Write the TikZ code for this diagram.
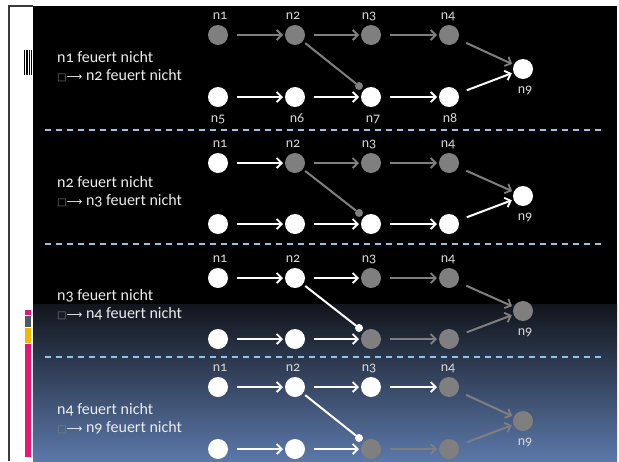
\documentclass[tikz,border=0pt]{standalone}
\usepackage{fontspec}
\setmainfont{Carlito}[Numbers=OldStyle]
\newfontfamily\symfont{DejaVu Sans}
\usetikzlibrary{arrows.meta}
\definecolor{gry}{HTML}{7F7F7F}
\definecolor{lblc}{HTML}{D8D8D8}
\definecolor{txtc}{HTML}{ECECEC}
\definecolor{dashc}{HTML}{93C3EA}
\definecolor{gradtop}{HTML}{12151C}
\definecolor{gradbot}{HTML}{5B78A9}
\definecolor{pinkc}{HTML}{E6177A}
\definecolor{slatec}{HTML}{4E5A6A}
\definecolor{yelc}{HTML}{F5B800}
\definecolor{framec}{HTML}{3A3A3A}
\newcommand{\impl}{{\symfont\fontsize{10}{12}\selectfont\color{gry}□}{\symfont\fontsize{11}{12}\selectfont ⟶}}
\begin{document}
\begin{tikzpicture}[x=1pt,y=-1pt,
 nd/.style={circle,minimum size=20pt,inner sep=0pt,outer sep=0pt},
 wn/.style={nd,fill=white},
 gn/.style={nd,fill=gry},
 arr/.style={line width=2pt,-{Straight Barb[length=5pt,width=10pt,line width=1.8pt]},shorten <=9pt,shorten >=2pt},
 wa/.style={arr,draw=white},
 ga/.style={arr,draw=gry},
 dotw/.style={circle,fill=white,minimum size=8pt,inner sep=0pt,outer sep=0pt},
 dotg/.style={circle,fill=gry,minimum size=8pt,inner sep=0pt,outer sep=0pt},
 wd/.style={draw=white,line width=2pt,shorten <=3pt},
 gd/.style={draw=gry,line width=2pt,shorten <=3pt},
 lbl/.style={text=lblc,font=\fontsize{14}{16}\selectfont,anchor=base,inner sep=0pt},
 txt/.style={text=txtc,font=\fontsize{16}{18}\selectfont,anchor=base west,inner sep=0pt},
 sepline/.style={draw=dashc,line width=1.5pt,dash pattern=on 6pt off 5pt}
]
\useasboundingbox (0,0) rectangle (619,461);
\fill[white] (0,0) rectangle (619,461);
\fill[black] (33,6) rectangle (617,461);
\shade[top color=gradtop,bottom color=gradbot] (33,304) rectangle (617,461);
\draw[framec,line width=1.5pt] (9,461) -- (9,6) -- (33,6);
% barcode mark
\fill[black] (23.5,50) rectangle (25,75);
\fill[black] (26,50) rectangle (27.5,75);
\fill[black] (28.5,50) rectangle (29.5,75);
\fill[black] (30.5,50) rectangle (32,75);
% colour bars
\fill[pinkc] (25,310) rectangle (31,315);
\fill[slatec] (25,316) rectangle (31,327);
\fill[yelc] (25,328) rectangle (31,343);
\fill[pinkc] (25,344) rectangle (31,457);
% separators
\coordinate (s1a) at (45,130); \coordinate (s1b) at (601,130);
\coordinate (s2a) at (45,244); \coordinate (s2b) at (601,244);
\coordinate (s3a) at (45,357); \coordinate (s3b) at (601,357);
\draw[sepline] (s1a) -- (s1b);
\draw[sepline] (s2a) -- (s2b);
\draw[sepline] (s3a) -- (s3b);

% ---------- Section 1 ----------
\node[gn] (a1) at (218,35) {};
\node[gn] (a2) at (295,35) {};
\node[gn] (a3) at (371,35) {};
\node[gn] (a4) at (449,35) {};
\node[wn] (a5) at (218,97) {};
\node[wn] (a6) at (295,97) {};
\node[wn] (a7) at (371,97) {};
\node[wn] (a8) at (449,97) {};
\node[wn] (a9) at (523,69) {};
\node[dotg] (a7d) at ([shift={(-12,-11)}]a7) {};
\draw[ga] (a1) -- (a2);
\draw[ga] (a2) -- (a3);
\draw[ga] (a3) -- (a4);
\draw[ga] (a4) -- (a9);
\draw[wa] (a5) -- (a6);
\draw[wa] (a6) -- (a7);
\draw[wa] (a7) -- (a8);
\draw[wa] (a8) -- (a9);
\draw[gd] (a2) -- (a7d);
\node[lbl] (a1l) at (220,19) {n1};
\node[lbl] (a2l) at (293,19) {n2};
\node[lbl] (a3l) at (369,19) {n3};
\node[lbl] (a4l) at (448,19) {n4};
\node[lbl] (a5l) at (218,122) {n5};
\node[lbl] (a6l) at (297,122) {n6};
\node[lbl] (a7l) at (373,122) {n7};
\node[lbl] (a8l) at (450,122) {n8};
\node[lbl] (a9l) at (525,93) {n9};
\node[txt] (at1) at (57,62) {n1 feuert nicht};
\node[txt] (at2) at (57,80) {\impl{} n2 feuert nicht};

% ---------- Section 2 ----------
\node[wn] (b1) at (218,163) {};
\node[gn] (b2) at (295,163) {};
\node[gn] (b3) at (371,163) {};
\node[gn] (b4) at (449,163) {};
\node[wn] (b5) at (218,224) {};
\node[wn] (b6) at (295,224) {};
\node[wn] (b7) at (371,224) {};
\node[wn] (b8) at (449,224) {};
\node[wn] (b9) at (523,196) {};
\node[dotg] (b7d) at ([shift={(-12,-11)}]b7) {};
\draw[wa] (b1) -- (b2);
\draw[ga] (b2) -- (b3);
\draw[ga] (b3) -- (b4);
\draw[ga] (b4) -- (b9);
\draw[wa] (b5) -- (b6);
\draw[wa] (b6) -- (b7);
\draw[wa] (b7) -- (b8);
\draw[wa] (b8) -- (b9);
\draw[gd] (b2) -- (b7d);
\node[lbl] (b1l) at (220,147) {n1};
\node[lbl] (b2l) at (293,147) {n2};
\node[lbl] (b3l) at (369,147) {n3};
\node[lbl] (b4l) at (448,147) {n4};
\node[lbl] (b9l) at (525,220) {n9};
\node[txt] (bt1) at (57,187) {n2 feuert nicht};
\node[txt] (bt2) at (57,205) {\impl{} n3 feuert nicht};

% ---------- Section 3 ----------
\node[wn] (c1) at (218,278) {};
\node[wn] (c2) at (295,278) {};
\node[gn] (c3) at (371,278) {};
\node[gn] (c4) at (449,278) {};
\node[wn] (c5) at (218,339) {};
\node[wn] (c6) at (295,339) {};
\node[gn] (c7) at (371,339) {};
\node[gn] (c8) at (449,339) {};
\node[gn] (c9) at (523,311) {};
\node[dotw] (c7d) at ([shift={(-12,-11)}]c7) {};
\draw[wa] (c1) -- (c2);
\draw[wa] (c2) -- (c3);
\draw[ga] (c3) -- (c4);
\draw[ga] (c4) -- (c9);
\draw[wa] (c5) -- (c6);
\draw[wa] (c6) -- (c7);
\draw[ga] (c7) -- (c8);
\draw[ga] (c8) -- (c9);
\draw[wd] (c2) -- (c7d);
\node[lbl] (c1l) at (220,262) {n1};
\node[lbl] (c2l) at (293,262) {n2};
\node[lbl] (c3l) at (369,262) {n3};
\node[lbl] (c4l) at (448,262) {n4};
\node[lbl] (c9l) at (525,335) {n9};
\node[txt] (ct1) at (57,300) {n3 feuert nicht};
\node[txt] (ct2) at (57,318) {\impl{} n4 feuert nicht};

% ---------- Section 4 ----------
\node[wn] (d1) at (218,387) {};
\node[wn] (d2) at (295,387) {};
\node[wn] (d3) at (371,387) {};
\node[gn] (d4) at (449,387) {};
\node[wn] (d5) at (218,449) {};
\node[wn] (d6) at (295,449) {};
\node[gn] (d7) at (371,449) {};
\node[gn] (d8) at (449,449) {};
\node[gn] (d9) at (523,421) {};
\node[dotw] (d7d) at ([shift={(-12,-11)}]d7) {};
\draw[wa] (d1) -- (d2);
\draw[wa] (d2) -- (d3);
\draw[wa] (d3) -- (d4);
\draw[ga] (d4) -- (d9);
\draw[wa] (d5) -- (d6);
\draw[wa] (d6) -- (d7);
\draw[ga] (d7) -- (d8);
\draw[ga] (d8) -- (d9);
\draw[wd] (d2) -- (d7d);
\node[lbl] (d1l) at (220,371) {n1};
\node[lbl] (d2l) at (293,371) {n2};
\node[lbl] (d3l) at (369,371) {n3};
\node[lbl] (d4l) at (448,371) {n4};
\node[lbl] (d9l) at (525,445) {n9};
\node[txt] (dt1) at (57,414) {n4 feuert nicht};
\node[txt] (dt2) at (57,432) {\impl{} n9 feuert nicht};
\end{tikzpicture}
\end{document}
